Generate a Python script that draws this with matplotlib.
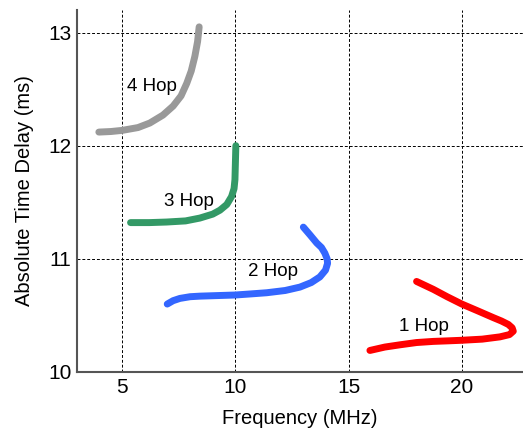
import matplotlib.pyplot as plt

plt.rcParams["font.family"] = ["Liberation Sans", "DejaVu Sans"]

# (MHz, ms)
hop4_freq = [3.97, 4.5, 5.0, 5.7, 6.22, 6.8, 7.25, 7.6, 7.85, 8.05, 8.21, 8.33, 8.4]
hop4_delay = [12.12, 12.125, 12.135, 12.16, 12.2, 12.27, 12.35, 12.44, 12.55, 12.66, 12.79, 12.92, 13.05]

hop3_freq = [5.37, 6.2, 6.96, 7.8, 8.43, 9.0, 9.32, 9.62, 9.83, 9.94, 9.98, 10.0, 10.02]
hop3_delay = [11.32, 11.32, 11.325, 11.335, 11.36, 11.395, 11.43, 11.48, 11.55, 11.62, 11.70, 11.85, 12.0]

hop2_freq = [6.99, 7.25, 7.55, 8.0, 8.43, 9.2, 9.99, 10.7, 11.38, 12.2, 12.85, 13.35, 13.73,
             13.98, 14.07, 14.05, 13.95, 13.8, 13.59, 13.3, 13.0]
hop2_delay = [10.6, 10.63, 10.65, 10.665, 10.67, 10.675, 10.68, 10.69, 10.70, 10.72, 10.75, 10.79, 10.84,
              10.9, 10.96, 11.0, 11.05, 11.1, 11.14, 11.21, 11.28]

hop1_freq = [15.94, 16.6, 17.27, 18.0, 18.74, 19.4, 20.0, 20.9, 21.68, 22.1, 22.27, 22.22, 22.05,
             21.75, 21.39, 20.7, 20.0, 19.35, 18.74, 18.0]
hop1_delay = [10.19, 10.22, 10.24, 10.26, 10.27, 10.275, 10.28, 10.29, 10.31, 10.33, 10.36, 10.39, 10.42,
              10.45, 10.48, 10.54, 10.60, 10.665, 10.73, 10.8]

curves = [
    (hop4_freq, hop4_delay, "#999999", "4 Hop", (6.3, 12.52)),
    (hop3_freq, hop3_delay, "#339966", "3 Hop", (7.96, 11.51)),
    (hop2_freq, hop2_delay, "#3366ff", "2 Hop", (11.64, 10.89)),
    (hop1_freq, hop1_delay, "#ff0000", "1 Hop", (18.34, 10.40)),
]

fig = plt.figure(figsize=(5.23, 4.30), dpi=100)
ax = fig.add_axes([0.147, 0.135, 0.853, 0.842])

for freq, delay, color, label, pos in curves:
    ax.plot(freq, delay, color=color, linewidth=5,
            solid_capstyle="round", solid_joinstyle="round")
    ax.text(pos[0], pos[1], label, fontsize=13.5, ha="center", va="center")

ax.set_xlim(3, 22.7)
ax.set_ylim(10, 13.2)
ax.set_xticks([5, 10, 15, 20])
ax.set_yticks([10, 11, 12, 13])
ax.grid(True, color="black", linestyle=(0, (3, 2)), linewidth=0.7)
ax.set_axisbelow(True)
ax.tick_params(length=0, labelsize=15, pad=4)

for side in ["top", "right"]:
    ax.spines[side].set_visible(False)
for side in ["left", "bottom"]:
    ax.spines[side].set_color("#555555")
    ax.spines[side].set_linewidth(1.5)

ax.set_xlabel("Frequency (MHz)", fontsize=14.5, labelpad=9)
ax.set_ylabel("Absolute Time Delay (ms)", fontsize=14.5, labelpad=10)

fig.savefig("out.png", dpi=100)
